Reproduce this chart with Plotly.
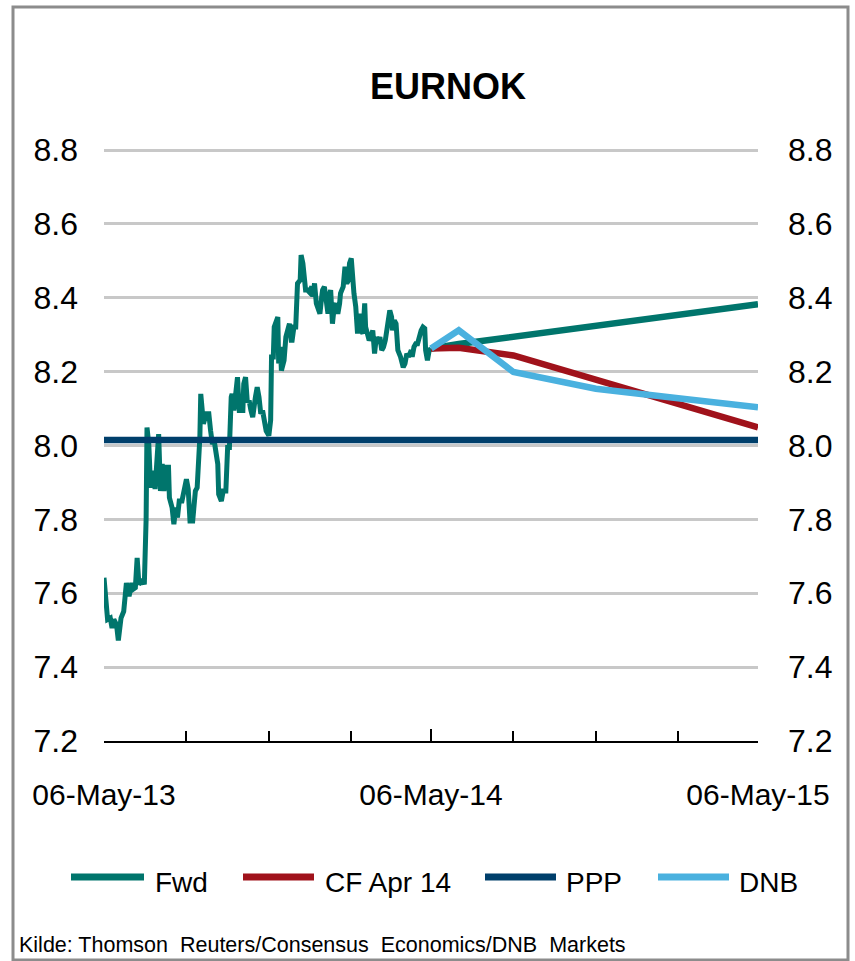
import datetime as dt
import plotly.graph_objects as go

# ---------------- data ----------------
start_date = dt.date(2013, 5, 6)
# historical EURNOK: days since 06-May-13 and spot level
hist_days = [0, 4, 7, 9, 11, 14, 16, 19, 22, 25, 28, 31, 32, 35, 37, 39, 43, 45, 47, 48,
             50, 52, 55, 57, 61, 63, 65, 67, 69, 72, 73, 76, 78, 80, 82, 84, 87, 89, 92, 94,
             96, 99, 102, 104, 107, 108, 111, 114, 117, 119, 121, 123, 125, 127, 128, 131, 133, 136, 138, 140,
             142, 143, 145, 147, 149, 151, 155, 156, 158, 160, 162, 164, 166, 169, 171, 173, 175, 177, 179, 181,
             184, 186, 187, 189, 190, 192, 194, 195, 197, 198, 201, 203, 205, 207, 209, 210, 212, 214, 216, 219,
             220, 222, 225, 227, 229, 232, 233, 235, 237, 239, 241, 243, 244, 246, 248, 250, 251, 253, 255, 257,
             259, 261, 263, 264, 267, 269, 271, 273, 274, 276, 279, 281, 283, 285, 287, 289, 291, 292, 294, 296,
             298, 300, 302, 304, 306, 308, 310, 312, 314, 315, 317, 319, 321, 322, 324, 326, 328, 330, 331, 334,
             336, 338, 340, 343, 344, 346, 348, 350, 352, 354, 356, 358, 359, 361, 363, 365]
hist_vals = [7.642, 7.529, 7.533, 7.506, 7.529, 7.515, 7.472, 7.533, 7.551, 7.628, 7.592, 7.628, 7.610, 7.615, 7.696, 7.624, 7.637, 7.624, 7.800, 8.049,
             8.004, 7.886, 7.932, 7.882, 8.031, 7.877, 7.950, 7.877, 7.941, 7.941, 7.859, 7.832, 7.787, 7.832, 7.805, 7.850, 7.850, 7.877, 7.909, 7.882,
             7.796, 7.796, 7.877, 7.886, 8.022, 8.140, 8.059, 8.086, 8.086, 8.040, 8.004, 8.013, 7.986, 7.950, 7.868, 7.850, 7.877, 7.877, 7.995, 7.995,
             8.131, 8.140, 8.095, 8.131, 8.185, 8.095, 8.095, 8.167, 8.185, 8.117, 8.122, 8.095, 8.077, 8.131, 8.158, 8.131, 8.086, 8.095, 8.059, 8.040,
             8.027, 8.068, 8.240, 8.240, 8.321, 8.339, 8.348, 8.222, 8.267, 8.203, 8.231, 8.294, 8.312, 8.330, 8.285, 8.285, 8.321, 8.321, 8.439, 8.448,
             8.516, 8.493, 8.421, 8.421, 8.416, 8.430, 8.403, 8.439, 8.385, 8.366, 8.357, 8.403, 8.421, 8.430, 8.385, 8.357, 8.403, 8.421, 8.330, 8.376,
             8.385, 8.357, 8.385, 8.412, 8.430, 8.484, 8.439, 8.448, 8.493, 8.507, 8.412, 8.376, 8.303, 8.357, 8.312, 8.303, 8.385, 8.321, 8.303, 8.285,
             8.294, 8.312, 8.249, 8.294, 8.276, 8.294, 8.258, 8.267, 8.285, 8.303, 8.348, 8.366, 8.348, 8.312, 8.339, 8.330, 8.258, 8.249, 8.240, 8.212,
             8.222, 8.249, 8.240, 8.258, 8.240, 8.267, 8.276, 8.276, 8.303, 8.312, 8.321, 8.317, 8.258, 8.231, 8.258, 8.263]

fwd_dates = ["2014-05-06", "2014-06-06", "2015-05-06"]
fwd_vals = [8.263, 8.275, 8.383]

cf_dates = ["2014-05-06", "2014-06-06", "2014-08-06", "2015-05-06"]
cf_vals = [8.263, 8.265, 8.244, 8.049]

ppp_dates = ["2013-05-06", "2015-05-06"]
ppp_vals = [8.015, 8.015]

dnb_dates = ["2014-05-06", "2014-06-06", "2014-08-06", "2014-11-06", "2015-02-06", "2015-05-06"]
dnb_vals = [8.263, 8.312, 8.199, 8.154, 8.128, 8.104]

x_major = ["2013-05-06", "2014-05-06", "2015-05-06"]
x_major_text = ["06-May-13", "06-May-14", "06-May-15"]
x_minor = ["2013-08-06", "2013-11-06", "2014-02-06", "2014-08-06", "2014-11-06", "2015-02-06"]
y_ticks = [7.2, 7.4, 7.6, 7.8, 8.0, 8.2, 8.4, 8.6, 8.8]
y_range = [7.2, 8.803]

series_names = ["Fwd", "CF Apr 14", "PPP", "DNB"]
colors = {"Fwd": "#00756C", "CF Apr 14": "#A0121B", "PPP": "#003F6B", "DNB": "#4AB1DF"}

title_text = "EURNOK"
source_text = "Kilde: Thomson\u00a0\u00a0Reuters/Consensus\u00a0\u00a0Economics/DNB\u00a0\u00a0Markets"

# ---------------- layout geometry ----------------
WIDTH, HEIGHT = 855, 961
L, R, T, B = 104, 758, 149, 741
PW, PH = R - L, B - T


def px(x):
    return (x - L) / PW


def py(y):
    return (B - y) / PH


FONT = "Liberation Sans, Arial, sans-serif"

hist_dates = [start_date + dt.timedelta(days=d) for d in hist_days]

fig = go.Figure()
fig.add_trace(go.Scatter(x=hist_dates, y=hist_vals, mode="lines", name="Fwd",
                         line=dict(color=colors["Fwd"], width=5), showlegend=False))
fig.add_trace(go.Scatter(x=fwd_dates, y=fwd_vals, mode="lines", name="Fwd",
                         line=dict(color=colors["Fwd"], width=6.5), showlegend=False))
fig.add_trace(go.Scatter(x=cf_dates, y=cf_vals, mode="lines", name="CF Apr 14",
                         line=dict(color=colors["CF Apr 14"], width=6.5), showlegend=False))
fig.add_trace(go.Scatter(x=ppp_dates, y=ppp_vals, mode="lines", name="PPP", yaxis="y2",
                         line=dict(color=colors["PPP"], width=6.5), showlegend=False))
fig.add_trace(go.Scatter(x=dnb_dates, y=dnb_vals, mode="lines", name="DNB", yaxis="y2",
                         line=dict(color=colors["DNB"], width=6.5), showlegend=False))

yfont = dict(family=FONT, size=32, color="black")
xfont = dict(family=FONT, size=30, color="black")

fig.update_layout(
    width=WIDTH, height=HEIGHT,
    margin=dict(l=L, r=WIDTH - R, t=T, b=HEIGHT - B, pad=0),
    paper_bgcolor="white", plot_bgcolor="white",
    showlegend=False,
    xaxis=dict(type="date", range=[x_major[0], x_major[-1]],
               tickmode="array", tickvals=x_major, ticktext=x_major_text,
               ticks="inside", ticklen=12, tickwidth=2, tickcolor="black",
               showline=True, linecolor="black", linewidth=2,
               showgrid=False, zeroline=False, tickfont=xfont,
               ticklabelstandoff=26,
               minor=dict(tickmode="array", tickvals=x_minor, ticks="inside",
                          ticklen=10, tickwidth=2, tickcolor="black", showgrid=False)),
    yaxis=dict(range=y_range, tickmode="array", tickvals=y_ticks, tickformat=".1f",
               showgrid=True, gridcolor="#C8C8C8", gridwidth=3, zeroline=False,
               showline=False, ticks="", tickfont=yfont, ticklabelstandoff=25),
    yaxis2=dict(range=y_range, tickmode="array", tickvals=y_ticks, tickformat=".1f",
                overlaying="y", side="right", showgrid=False, zeroline=False,
                showline=False, ticks="", tickfont=yfont, ticklabelstandoff=29),
)

# title
fig.add_annotation(x=px(448), y=py(87), xref="paper", yref="paper", text="<b>" + title_text + "</b>",
                   showarrow=False, xanchor="center", yanchor="middle",
                   font=dict(family=FONT, size=36, color="black"))

# manual legend
legend_geom = {"Fwd": (71, 144, 153), "CF Apr 14": (243, 314, 323), "PPP": (485, 556, 564), "DNB": (658, 729, 737)}
for name in series_names:
    x0, x1, xt = legend_geom[name]
    fig.add_shape(type="line", xref="paper", yref="paper", x0=px(x0), x1=px(x1), y0=py(877), y1=py(877),
                  line=dict(color=colors[name], width=7))
    fig.add_annotation(x=px(xt), y=py(882), xref="paper", yref="paper", text=name, showarrow=False,
                       xanchor="left", yanchor="middle", font=dict(family=FONT, size=28, color="black"))

# source
fig.add_annotation(x=px(17), y=py(945), xref="paper", yref="paper", text=source_text, showarrow=False,
                   xanchor="left", yanchor="middle", font=dict(family=FONT, size=21.5, color="black"))

# frame
fig.add_shape(type="rect", xref="paper", yref="paper", x0=px(13), x1=px(848), y0=py(960), y1=py(7),
              line=dict(color="#8C8C8C", width=3), fillcolor="rgba(0,0,0,0)", layer="below")

fig.write_html("out.html", config={"displayModeBar": False},
               post_script="document.body.style.margin='0';document.body.style.overflow='hidden';")
